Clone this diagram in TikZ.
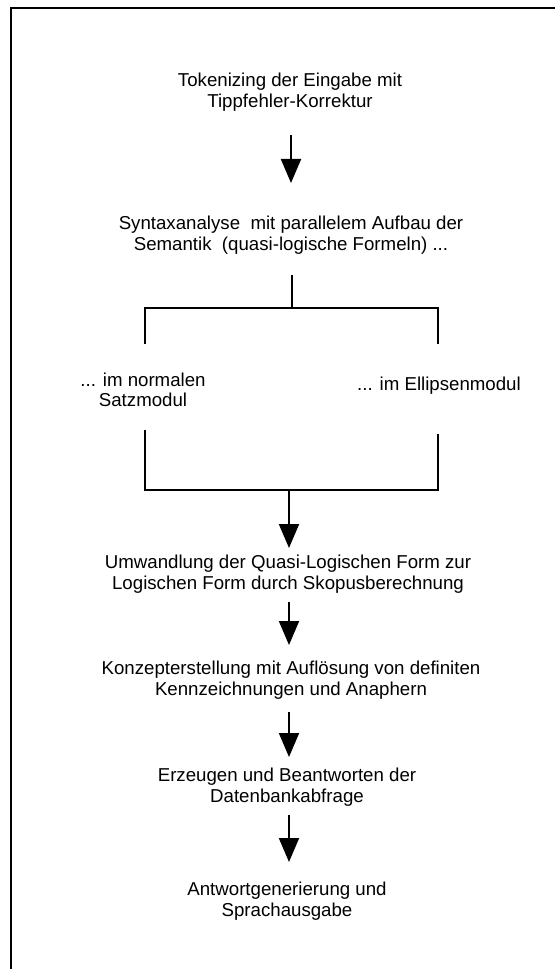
\documentclass[tikz,border=0pt]{standalone}
\usepackage{fontspec}
\setmainfont{Liberation Sans}
\usetikzlibrary{arrows.meta,positioning,calc}

\begin{document}
\begin{tikzpicture}[
        x=0.75pt, y=-0.75pt,
        stage/.style={align=center, inner sep=0pt, font=\fontsize{14pt}{15.4pt}\selectfont},
        line/.style={draw, line width=1.5pt},
        arrow/.style={draw, line width=1.5pt, -{Triangle[length=18pt, width=15pt]}},
        frame/.style={draw, line width=1.1pt}
    ]
        \useasboundingbox (0,0) rectangle (555,969);

        % Frame (open to the right and below)
        \coordinate (fr) at (11,8);
        \draw [frame] (555,8) -- (fr) -- (11,969);

        % Stages
        \node (tok) [stage] at (290,92) {Tokenizing der Eingabe mit\\Tippfehler-Korrektur};
        \node (syn) [stage] at (291,235) {Syntaxanalyse\ \ mit parallelem Aufbau der\\Semantik\ \ (quasi-logische Formeln) ...};
        \node (norm) [stage] at (143,390) {... im normalen\\Satzmodul};
        \node (ell) [stage] at (439,386) {... im Ellipsenmodul};
        \node (umw) [stage] at (288,574) {Umwandlung der Quasi-Logischen Form zur\\Logischen Form durch Skopusberechnung};
        \node (konz) [stage] at (291,680) {Konzepterstellung mit Aufl\"osung von definiten\\Kennzeichnungen und Anaphern};
        \node (erz) [stage] at (287,787) {Erzeugen und Beantworten der\\Datenbankabfrage};
        \node (antw) [stage] at (287,901) {Antwortgenerierung und\\Sprachausgabe};

        % Split and merge points
        \coordinate (split) at (292,308);
        \coordinate (merge) at (289,490);

        % Connections
        \draw [arrow] ($(tok)+(1,43)$) -- ($(syn)+(0,-52)$);
        \draw [line] ($(syn)+(1,40)$) -- (split);
        \draw [line] ($(norm)+(2,-46)$) |- (split) -| ($(ell)+(-1,-42)$);
        \draw [line] ($(norm)+(2,40)$) |- (merge) -| ($(ell)+(-1,48)$);
        \draw [arrow] (merge) -- ($(umw)+(1,-26)$);
        \draw [arrow] ($(umw)+(1,28)$) -- ($(konz)+(-2,-35)$);
        \draw [arrow] ($(konz)+(-2,32)$) -- ($(erz)+(2,-30)$);
        \draw [arrow] ($(erz)+(2,28)$) -- ($(antw)+(2,-39)$);

    \end{tikzpicture}
\end{document}
